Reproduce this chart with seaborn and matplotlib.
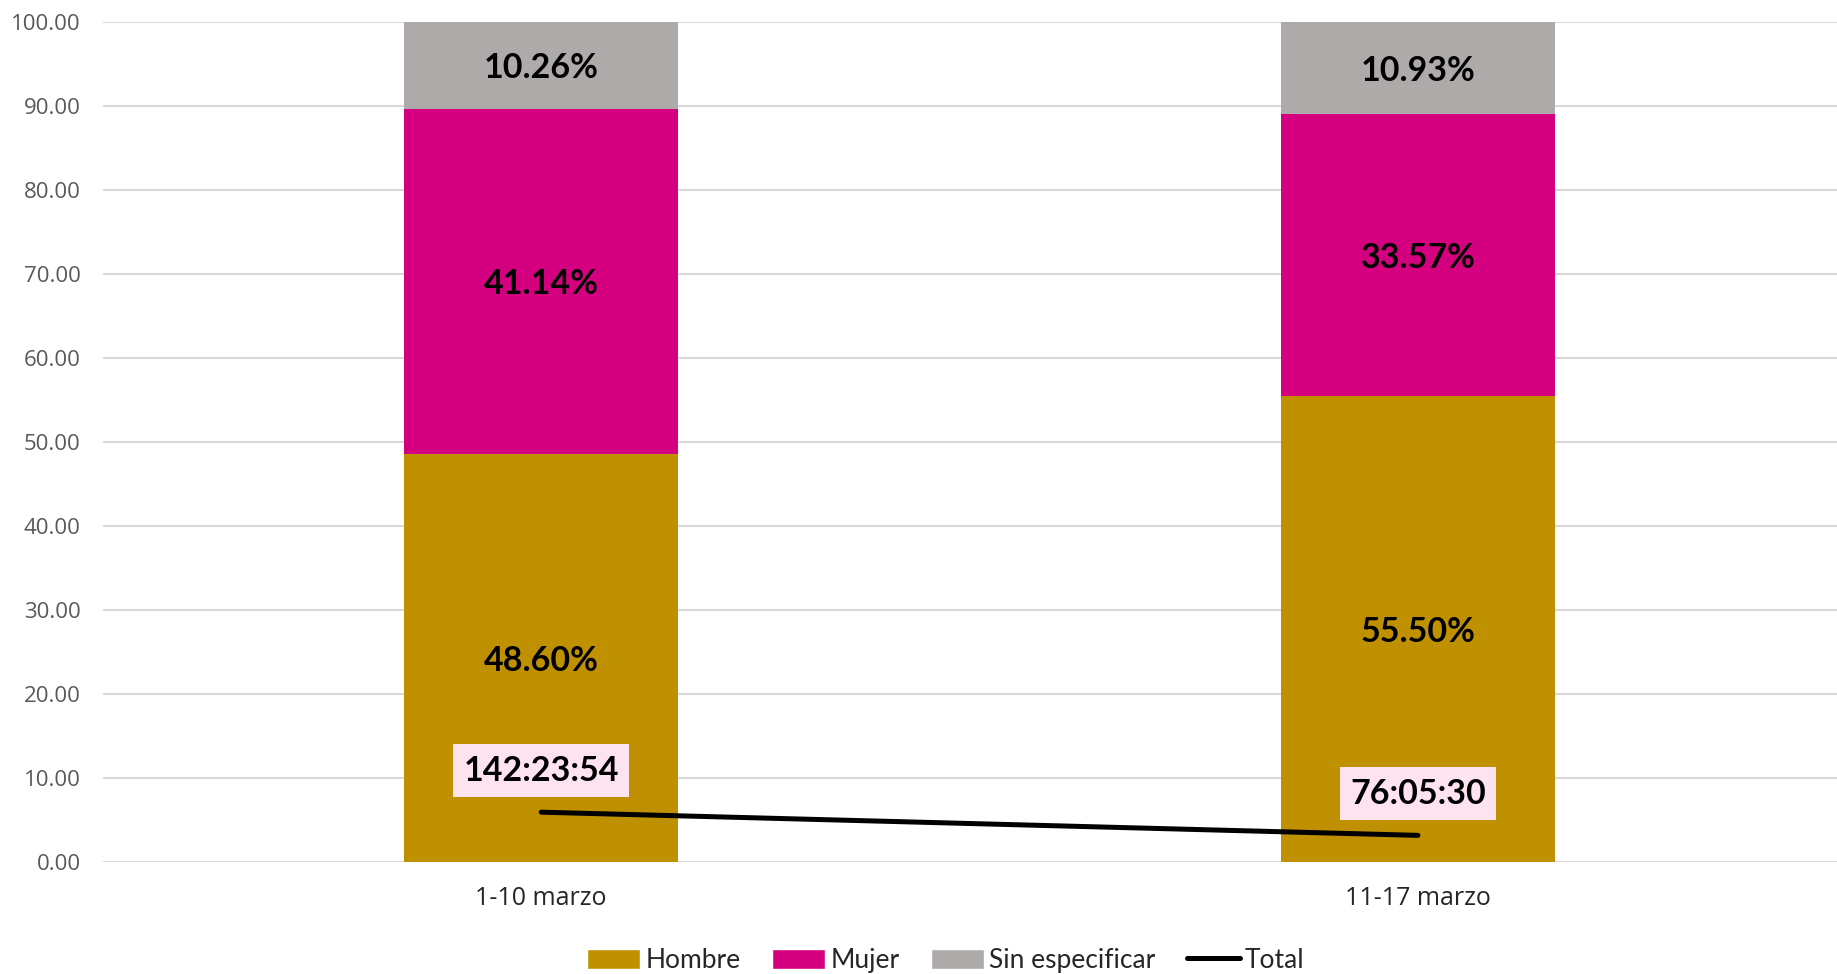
import matplotlib
matplotlib.use("Agg")
import matplotlib.pyplot as plt
import seaborn as sns
import pandas as pd
import numpy as np
from matplotlib.patches import Patch
from matplotlib.lines import Line2D

categories = ["1-10 marzo", "11-17 marzo"]
hombre = [48.60, 55.50]
mujer = [41.14, 33.57]
sin_especificar = [10.26, 10.93]
total_days = [5.933, 3.171]
total_labels = ["142:23:54", "76:05:30"]
series_names = ["Hombre", "Mujer", "Sin especificar", "Total"]
colors = ["#BF9000", "#D5007F", "#AEAAAA", "#000000"]

sns.set_theme(style="white")
plt.rcParams['font.family'] = ['Open Sans', 'DejaVu Sans']

fig = plt.figure(figsize=(18.37, 9.74), dpi=100)
ax = fig.add_axes([0.056, 0.115, 0.944, 0.862])

df = pd.DataFrame({"cat": categories, "h": hombre, "m": mujer, "s": sin_especificar})
df["hm"] = df["h"] + df["m"]
df["hms"] = df["hm"] + df["s"]

w = 0.312
sns.barplot(data=df, x="cat", y="hms", color=colors[2], width=w, saturation=1, ax=ax, zorder=2, linewidth=0)
sns.barplot(data=df, x="cat", y="hm", color=colors[1], width=w, saturation=1, ax=ax, zorder=3, linewidth=0)
sns.barplot(data=df, x="cat", y="h", color=colors[0], width=w, saturation=1, ax=ax, zorder=4, linewidth=0)

lab_font = dict(family=['Lato', 'DejaVu Sans'], fontsize=24.5, fontweight='bold', color='black')
for i in range(len(categories)):
    ax.text(i, hombre[i] / 2, f"{hombre[i]:.2f}%", ha='center', va='center_baseline', zorder=6, **lab_font)
    ax.text(i, hombre[i] + mujer[i] / 2, f"{mujer[i]:.2f}%", ha='center', va='center_baseline', zorder=6, **lab_font)
    ax.text(i, hombre[i] + mujer[i] + sin_especificar[i] / 2, f"{sin_especificar[i]:.2f}%",
            ha='center', va='center_baseline', zorder=6, **lab_font)

ldf = pd.DataFrame({"x": [0, 1], "y": total_days})
sns.lineplot(data=ldf, x="x", y="y", color="black", linewidth=3.6, ax=ax, zorder=5,
             solid_capstyle='round')
for i in range(len(categories)):
    ax.annotate(total_labels[i], xy=(i, total_days[i]), xytext=(0, 30), textcoords='offset points',
                ha='center', va='center', zorder=7, **lab_font,
                bbox=dict(boxstyle='square,pad=0.3', fc='#FDE2EF', ec='none'))

ax.set_xlim(-0.5, 1.478)
ax.set_ylim(0, 100)
ax.set_yticks(np.arange(0, 101, 10))
ax.set_yticklabels([f"{v:.2f}" for v in np.arange(0, 101, 10)])
ax.set_xticks([0, 1])
ax.set_xticklabels(categories)
ax.set_xlabel("")
ax.set_ylabel("")
ax.yaxis.grid(True, color="#D9D9D9", linewidth=1.5)
ax.set_axisbelow(True)
for s in ax.spines.values():
    s.set_visible(False)
ax.tick_params(axis='y', length=0, pad=16, labelsize=16, labelcolor='#595959')
ax.tick_params(axis='x', length=0, pad=17, labelsize=18, labelcolor='#262626')

handles = [Patch(facecolor=colors[0]), Patch(facecolor=colors[1]), Patch(facecolor=colors[2]),
           Line2D([0], [0], color='black', linewidth=3.6, solid_capstyle='round')]
fig.legend(handles, series_names, loc='center', bbox_to_anchor=(0.515, 0.014), ncol=4, frameon=False,
           prop=dict(family=['Lato', 'DejaVu Sans'], size=19), handlelength=2.0, handleheight=0.8,
           handletextpad=0.2, columnspacing=1.2)

fig.savefig("out.png", dpi=100)
